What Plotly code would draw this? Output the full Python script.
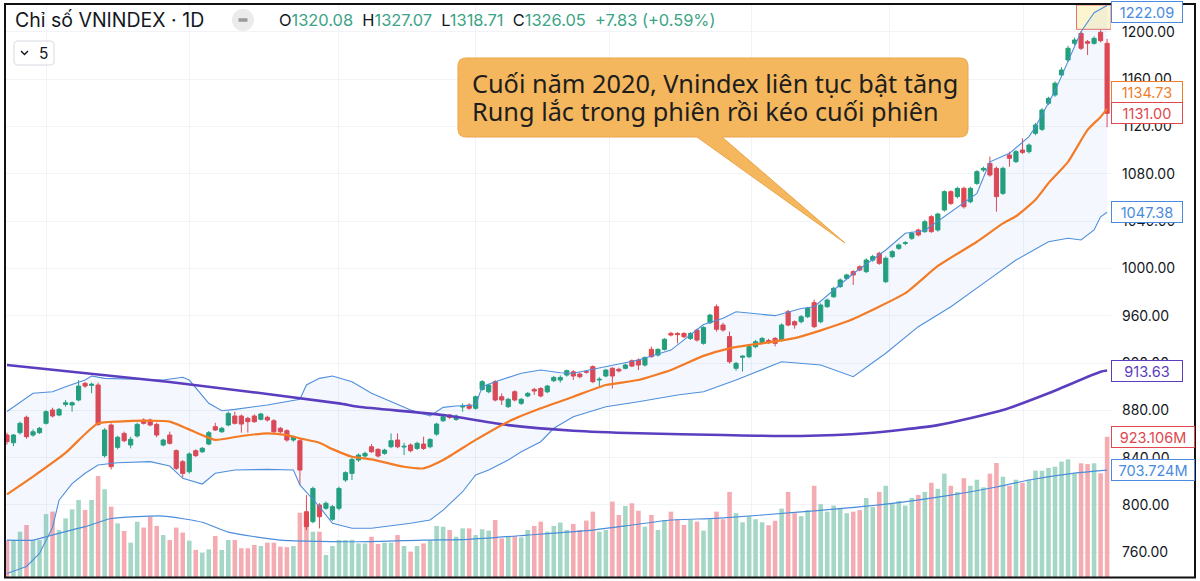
import plotly.graph_objects as go

# ---------------- data ----------------
opens = [859.1, 852.6, 861.1, 874.1, 859.1, 861.1, 869.0, 880.3, 876.0, 885.0,
         884.5, 888.7, 902.8, 901.1, 901.4, 841.7, 867.6, 848.7, 860.5, 850.7,
         858.3, 871.8, 871.8, 868.1, 850.7, 859.1, 845.9, 836.6, 828.1, 845.9,
         845.0, 851.5, 866.2, 861.9, 867.6, 875.2, 875.2, 873.2, 875.2, 872.4,
         874.1, 871.2, 864.8, 862.8, 854.9, 854.3, 794.3, 785.9, 800.0, 797.2,
         787.9, 797.2, 821.1, 826.7, 838.0, 841.4, 849.2, 847.0, 843.6, 849.2,
         854.9, 849.0, 850.7, 847.8, 851.5, 849.2, 859.9, 871.2, 876.0, 872.3,
         882.8, 884.5, 881.7, 897.7, 895.7, 904.2, 891.5, 883.1, 895.7, 885.9,
         892.1, 897.7, 898.5, 895.7, 905.0, 905.6, 909.8, 912.6, 910.7, 912.7,
         916.9, 905.6, 909.0, 915.5, 914.7, 915.5, 921.9, 922.5, 918.3, 931.5,
         926.7, 931.5, 945.0, 945.0, 945.0, 940.8, 947.8, 936.6, 954.0, 967.6,
         952.1, 942.3, 915.5, 924.8, 925.3, 933.8, 937.2, 939.0, 940.8, 939.4,
         963.4, 954.9, 954.9, 959.1, 971.0, 954.9, 967.6, 976.0, 984.5, 991.5,
         997.2, 1001.4, 997.2, 1007.0, 1012.7, 988.7, 1009.9, 1016.9, 1021.1, 1025.4,
         1032.4, 1031.0, 1043.7, 1032.4, 1049.3, 1064.8, 1060.6, 1067.6, 1056.3, 1071.8,
         1083.1, 1088.7, 1084.5, 1063.4, 1095.8, 1090.2, 1100.0, 1098.6, 1114.1, 1117.5,
         1139.5, 1146.5, 1163.4, 1176.1, 1190.2, 1198.6, 1191.6, 1190.2, 1199.5, 1190.2]

highs = [861.0, 860.0, 870.5, 875.5, 863.9, 866.0, 880.0, 882.2, 882.0, 888.7,
         887.5, 905.6, 904.0, 903.4, 903.4, 865.0, 869.0, 858.5, 862.0, 857.7,
         869.5, 873.2, 873.0, 869.5, 856.0, 862.0, 847.0, 838.0, 844.5, 847.0,
         849.0, 862.5, 869.5, 866.0, 879.0, 878.9, 876.5, 874.5, 876.5, 878.0,
         875.5, 872.5, 866.0, 864.0, 858.5, 855.5, 808.4, 815.5, 801.5, 803.0,
         800.0, 815.5, 828.5, 840.0, 843.5, 845.0, 851.5, 848.0, 847.5, 860.5,
         860.5, 852.6, 852.0, 853.5, 857.7, 856.5, 869.5, 876.0, 877.0, 876.5,
         885.9, 886.0, 892.5, 905.5, 902.5, 905.5, 894.3, 890.5, 897.0, 890.5,
         895.5, 899.0, 899.5, 901.5, 909.0, 909.5, 914.5, 914.0, 912.0, 914.0,
         918.0, 908.0, 915.0, 916.5, 916.0, 919.5, 923.0, 923.9, 925.5, 933.8,
         932.5, 941.0, 946.4, 946.0, 946.0, 946.0, 949.0, 951.0, 961.5, 969.5,
         954.0, 946.5, 921.0, 926.5, 935.0, 939.5, 942.0, 940.5, 942.0, 953.5,
         965.0, 956.0, 960.5, 967.5, 973.5, 970.5, 974.5, 984.5, 991.5, 995.5,
         998.5, 1002.5, 1008.5, 1011.5, 1014.0, 1010.0, 1015.5, 1021.0, 1023.0, 1031.0,
         1033.5, 1041.0, 1045.0, 1047.0, 1066.0, 1066.0, 1069.0, 1069.0, 1069.0, 1083.0,
         1086.0, 1094.4, 1086.0, 1086.0, 1098.6, 1100.0, 1109.9, 1105.5, 1123.0, 1135.5,
         1145.0, 1158.0, 1170.0, 1188.0, 1195.0, 1200.5, 1193.0, 1196.0, 1201.5, 1194.0]

lows = [851.0, 849.8, 859.5, 856.0, 857.7, 860.0, 868.0, 874.0, 875.0, 883.1,
        878.9, 887.5, 899.0, 894.4, 867.0, 840.0, 830.0, 847.0, 853.0, 847.9,
        857.0, 868.0, 866.5, 857.2, 849.5, 851.0, 829.5, 823.3, 826.5, 840.5,
        844.0, 850.5, 862.5, 861.0, 866.5, 868.0, 861.1, 861.1, 869.5, 871.5,
        870.5, 860.5, 860.5, 853.5, 853.5, 816.9, 778.8, 784.5, 780.2, 796.0,
        786.5, 795.5, 819.5, 821.1, 836.5, 840.0, 844.0, 840.0, 842.5, 848.0,
        848.0, 842.2, 844.5, 846.5, 846.5, 848.0, 858.5, 870.0, 872.5, 871.0,
        878.8, 880.5, 880.5, 896.5, 894.5, 887.5, 884.5, 882.0, 887.5, 884.5,
        891.0, 892.9, 891.0, 894.5, 904.0, 903.5, 908.5, 905.6, 907.0, 911.0,
        903.0, 900.5, 908.0, 898.5, 912.0, 914.5, 916.5, 914.0, 917.0, 924.5,
        925.5, 930.5, 942.5, 936.6, 941.0, 939.5, 938.0, 935.5, 953.0, 946.5,
        946.5, 919.5, 913.5, 912.7, 924.0, 932.5, 936.0, 936.0, 934.0, 938.0,
        951.0, 949.0, 953.5, 958.0, 949.5, 953.5, 966.5, 975.0, 983.5, 990.5,
        985.9, 997.5, 996.0, 1005.5, 1003.0, 987.5, 1008.5, 1015.5, 1019.5, 1024.0,
        1027.0, 1030.0, 1030.0, 1031.0, 1048.0, 1053.5, 1059.0, 1050.5, 1055.0, 1070.5,
        1081.5, 1077.5, 1047.9, 1062.0, 1085.9, 1089.0, 1096.5, 1097.0, 1112.5, 1116.0,
        1138.0, 1145.0, 1161.5, 1174.5, 1188.5, 1184.5, 1180.3, 1189.0, 1191.0, 1119.2]

closes = [853.5, 859.1, 869.0, 857.7, 861.9, 864.8, 878.9, 875.2, 880.8, 886.4,
          886.4, 900.5, 900.5, 902.0, 868.1, 863.4, 832.4, 857.2, 854.3, 855.5,
          868.1, 869.0, 867.6, 859.1, 854.9, 852.1, 831.0, 826.7, 843.1, 841.7,
          847.9, 861.1, 863.4, 864.8, 877.4, 869.0, 868.4, 870.4, 870.4, 876.9,
          871.8, 861.9, 861.9, 854.9, 857.7, 829.5, 781.7, 814.0, 790.1, 801.4,
          798.6, 814.0, 827.3, 838.5, 842.2, 843.6, 845.0, 841.4, 846.4, 854.3,
          849.2, 849.6, 845.9, 852.1, 847.8, 855.4, 868.4, 874.6, 874.0, 875.2,
          883.4, 881.7, 891.5, 904.2, 901.4, 888.7, 888.7, 889.3, 888.7, 889.3,
          894.3, 896.3, 892.1, 900.5, 907.8, 907.8, 913.5, 909.0, 908.4, 912.3,
          904.2, 906.2, 914.0, 909.0, 913.3, 918.3, 917.4, 918.3, 924.7, 925.3,
          931.5, 940.0, 943.6, 944.0, 942.2, 945.0, 939.4, 950.1, 960.5, 948.5,
          947.9, 921.1, 919.7, 925.8, 933.8, 938.0, 940.8, 937.2, 936.6, 952.1,
          952.1, 952.1, 959.1, 966.2, 950.7, 969.0, 973.2, 983.1, 990.2, 994.4,
          994.4, 998.6, 1007.0, 1009.9, 1004.2, 1008.5, 1014.1, 1019.7, 1021.6, 1029.6,
          1028.2, 1039.4, 1031.0, 1045.9, 1064.8, 1054.9, 1067.6, 1052.1, 1067.6, 1081.7,
          1084.5, 1078.9, 1060.6, 1084.5, 1093.0, 1098.6, 1098.0, 1104.2, 1121.2, 1133.8,
          1143.7, 1156.4, 1167.6, 1186.0, 1193.0, 1186.0, 1190.2, 1194.4, 1192.4, 1131.0]

volumes_m = [243, 243, 298, 342, 243, 243, 414, 430, 309, 386,
             445, 507, 441, 507, 664, 577, 463, 353, 303, 226,
             364, 325, 397, 336, 276, 243, 325, 292, 239, 178,
             160, 182, 270, 178, 243, 243, 189, 189, 211, 204,
             226, 226, 200, 196, 204, 423, 423, 298, 298, 145,
             204, 243, 243, 245, 221, 221, 265, 217, 226, 226,
             276, 204, 167, 204, 221, 243, 336, 331, 309, 265,
             320, 320, 276, 314, 305, 375, 254, 265, 270, 261,
             309, 336, 364, 298, 336, 358, 309, 349, 309, 371,
             430, 298, 309, 496, 408, 467, 485, 436, 331, 408,
             309, 375, 430, 380, 342, 375, 364, 305, 380, 430,
             380, 560, 420, 360, 400, 380, 360, 340, 370, 450,
             560, 420, 400, 440, 600, 480, 430, 470, 450, 420,
             430, 440, 520, 460, 560, 600, 480, 500, 470, 520,
             540, 560, 620, 580, 680, 600, 560, 650, 600, 640,
             590, 680, 750, 660, 600, 640, 620, 640, 700, 699,
             717, 726, 759, 774, 682, 748, 743, 748, 682, 923.106]

ma20_idx = [0, 4, 9, 12, 14, 17, 22, 25, 30, 32, 36, 40, 43, 45, 48, 50, 53, 56, 61, 64,
            67, 72, 77, 82, 87, 92, 97, 102, 107, 111, 121, 129, 138, 143, 149, 153, 155, 158, 160, 163,
            166, 168, 169]
ma20_val = [809, 824, 844, 860, 869, 870.5, 871.2, 870.4, 859, 855, 858.3, 860.6, 859.1, 856.3, 852.6, 847.2, 840.8, 838.6, 832.3, 831.0,
            838, 855, 870.4, 881.7, 891.5, 901.4, 905.6, 914.1, 926, 932.4, 941, 955, 979, 1002, 1022.5, 1038, 1044, 1058, 1072, 1090,
            1117, 1128, 1134.73]

bb_up_idx = [0, 4, 7, 9, 12, 13, 15, 19, 24, 27, 28, 31, 33, 35, 40, 45, 46, 48, 50, 53,
             56, 62, 65, 67, 69, 72, 73, 75, 79, 82, 85, 87, 92, 97, 102, 107, 110, 112, 118, 122,
             124, 130, 135, 138, 141, 146, 149, 151, 154, 157, 158, 161, 163, 165, 167, 169]
bb_up_val = [879, 894.4, 895.7, 900, 905.6, 909, 907, 906.2, 905.6, 907.9, 905.6, 885.9, 879.7, 880.8, 884.5, 889.3, 901.4, 907, 909, 904.2,
             894.4, 880.2, 875.2, 882.5, 883.6, 884.5, 900, 904.2, 911.3, 914.1, 911.8, 911.3, 916.9, 922.5, 930.9, 952.5, 957.8, 963.3, 960, 966,
             967.6, 995.6, 1015.5, 1029.6, 1032, 1052.1, 1063.4, 1090, 1097.2, 1111.3, 1119.7, 1150, 1175, 1200, 1216, 1222.09]

bb_lo_idx = [0, 3, 5, 7, 8, 10, 12, 14, 17, 22, 25, 27, 30, 32, 35, 40, 44, 45, 48, 50,
             53, 56, 62, 65, 67, 70, 72, 74, 77, 79, 82, 84, 87, 92, 97, 103, 107, 112, 119, 125,
             130, 135, 140, 145, 150, 155, 160, 163, 165, 167, 168, 169]
bb_lo_val = [742, 748, 759, 781, 804, 818, 826.8, 833.8, 835.7, 836.6, 832.9, 822.5, 817.7, 826.8, 829.6, 830.1, 829.6, 816.9, 798.5, 784.5,
             780.3, 780.3, 784.5, 787.3, 795.7, 811.2, 825.4, 829.6, 838.0, 845.0, 853.5, 864.8, 874.6, 883.0, 887.3, 892.9, 895.7, 905.6, 921.1, 918.3,
             908.4, 928.2, 950.7, 967.6, 987.3, 1007.0, 1022.5, 1025.4, 1024.0, 1032.4, 1043.6, 1047.38]

ma200_idx = [0, 25, 51, 54, 67, 77, 87, 97, 110, 122, 132, 143, 153, 160, 168, 169]
ma200_val = [918.3, 904.0, 885.9, 883.0, 876.0, 867.5, 862.8, 860.6, 859.1, 858.3, 860.6, 867.5, 880.2, 894.4, 912.6, 913.63]

volma_idx = [0, 4, 6, 9, 12, 16, 24, 30, 34, 42, 54, 64, 71, 80, 90, 95, 102, 109, 122, 134, 145, 152, 157, 164, 169]
volma_val = [243, 243, 265, 298, 331, 385, 401, 360, 295, 243, 232, 243, 248, 276, 309, 336, 375, 386, 428, 474, 539, 592, 638, 684, 703.724]

price_ticks = [760, 800, 840, 880, 920, 960, 1000, 1040, 1080, 1120, 1160, 1200]
price_tick_text = ["760.00", "800.00", "840.00", "880.00", "920.00", "960.00", "1000.00",
                   "1040.00", "1080.00", "1120.00", "1160.00", "1200.00"]

title_text = "Chỉ số VNINDEX · 1D"
ohlc_items = [("O", "1320.08"), ("H", "1327.07"), ("L", "1318.71"), ("C", "1326.05")]
change_text = "+7.83 (+0.59%)"
callout_lines = ["Cuối năm 2020, Vnindex liên tục bật tăng",
                 "Rung lắc trong phiên rồi kéo cuối phiên"]

# ---------------- styling ----------------
UP = "#22a07a"
DOWN = "#e3464f"
UP_V = "#a4d7c6"
DOWN_V = "#f4abb1"
BB_C = "#4f8fdc"
MA20_C = "#f47b25"
MA200_C = "#5b3dbf"
VOLMA_C = "#4a8ddb"
TXT = "#131722"
FONT = "Inter, Roboto, sans-serif"

W, H = 1200, 581
ML, MR, MT, MB = 6, 89, 5, 4
PW, PH = W - ML - MR, H - MT - MB


def PX(x):
    return (x - ML) / PW


def PY(y):
    return (H - MB - y) / PH


x = list(range(len(closes)))
vol_colors = [UP_V if c >= o else DOWN_V for o, c in zip(opens, closes)]

fig = go.Figure()

# volume (primary hidden axis)
fig.add_trace(go.Bar(x=x, y=volumes_m, marker=dict(color=vol_colors, line=dict(width=0)),
                     yaxis="y", hoverinfo="skip", showlegend=False))
fig.add_trace(go.Scatter(x=volma_idx, y=volma_val, mode="lines",
                         line=dict(color=VOLMA_C, width=1.2, shape="spline", smoothing=0.5), yaxis="y",
                         hoverinfo="skip", showlegend=False))

# Bollinger bands
fig.add_trace(go.Scatter(x=bb_up_idx, y=bb_up_val, mode="lines",
                         line=dict(color=BB_C, width=1.1), yaxis="y2",
                         hoverinfo="skip", showlegend=False))
fig.add_trace(go.Scatter(x=bb_lo_idx, y=bb_lo_val, mode="lines",
                         line=dict(color=BB_C, width=1.1), yaxis="y2",
                         fill="tonexty", fillcolor="rgba(66,133,244,0.06)",
                         hoverinfo="skip", showlegend=False))
# MA200
fig.add_trace(go.Scatter(x=ma200_idx, y=ma200_val, mode="lines",
                         line=dict(color=MA200_C, width=2.6, shape="spline", smoothing=0.6),
                         yaxis="y2", hoverinfo="skip", showlegend=False))
# MA20
fig.add_trace(go.Scatter(x=ma20_idx, y=ma20_val, mode="lines",
                         line=dict(color=MA20_C, width=2.2, shape="spline", smoothing=0.5), yaxis="y2",
                         hoverinfo="skip", showlegend=False))
# candles
fig.add_trace(go.Candlestick(x=x, open=opens, high=highs, low=lows, close=closes,
                             increasing=dict(line=dict(color=UP, width=1), fillcolor=UP),
                             decreasing=dict(line=dict(color=DOWN, width=1), fillcolor=DOWN),
                             whiskerwidth=0, yaxis="y2", hoverinfo="skip", showlegend=False))

shapes = []
# highlighted rectangle top-right
shapes.append(dict(type="rect", xref="x", yref="y2", x0=164.3, x1=169.6, y0=1202, y1=1222.6,
                   fillcolor="rgba(250,236,170,0.55)", line=dict(color="#e57373", width=1),
                   layer="below"))

# callout bubble (pixel coordinates converted to paper)
L_, R_, T_, B_, r = 458, 968, 58, 137, 8
bx0, bx1, tipx, tipy = 697, 722, 845, 243
pts = [
    ("M", L_ + r, T_), ("L", R_ - r, T_), ("Q", R_, T_, R_, T_ + r), ("L", R_, B_ - r),
    ("Q", R_, B_, R_ - r, B_), ("L", bx1, B_), ("L", tipx, tipy), ("L", bx0, B_),
    ("L", L_ + r, B_), ("Q", L_, B_, L_, B_ - r), ("L", L_, T_ + r), ("Q", L_, T_, L_ + r, T_),
]
path = ""
for p in pts:
    if p[0] == "Q":
        path += f"Q{PX(p[1]):.5f},{PY(p[2]):.5f} {PX(p[3]):.5f},{PY(p[4]):.5f} "
    else:
        path += f"{p[0]}{PX(p[1]):.5f},{PY(p[2]):.5f} "
path += "Z"
shapes.append(dict(type="path", xref="paper", yref="paper", path=path,
                   fillcolor="#f4b75e", line=dict(color="#eaa549", width=1), layer="above"))

# header: grey circle with dash
shapes.append(dict(type="circle", xref="paper", yref="paper",
                   x0=PX(232), x1=PX(254), y0=PY(31), y1=PY(9),
                   fillcolor="#ebebeb", line=dict(width=0), layer="above"))
shapes.append(dict(type="line", xref="paper", yref="paper",
                   x0=PX(238.5), x1=PX(247.5), y0=PY(20), y1=PY(20),
                   line=dict(color="#9a9a9a", width=3.5), layer="above"))
# "5" button
bl, bt, br_, bb, rr = 14, 41, 54, 65, 4
bpath = (f"M{PX(bl + rr):.5f},{PY(bt):.5f} L{PX(br_ - rr):.5f},{PY(bt):.5f} "
         f"Q{PX(br_):.5f},{PY(bt):.5f} {PX(br_):.5f},{PY(bt + rr):.5f} "
         f"L{PX(br_):.5f},{PY(bb - rr):.5f} Q{PX(br_):.5f},{PY(bb):.5f} {PX(br_ - rr):.5f},{PY(bb):.5f} "
         f"L{PX(bl + rr):.5f},{PY(bb):.5f} Q{PX(bl):.5f},{PY(bb):.5f} {PX(bl):.5f},{PY(bb - rr):.5f} "
         f"L{PX(bl):.5f},{PY(bt + rr):.5f} Q{PX(bl):.5f},{PY(bt):.5f} {PX(bl + rr):.5f},{PY(bt):.5f} Z")
shapes.append(dict(type="path", xref="paper", yref="paper", path=bpath,
                   fillcolor="white", line=dict(color="#d6d9e0", width=1), layer="above"))
shapes.append(dict(type="path", xref="paper", yref="paper",
                   path=f"M{PX(21):.5f},{PY(51):.5f} L{PX(24.5):.5f},{PY(54.5):.5f} L{PX(28):.5f},{PY(51):.5f}",
                   line=dict(color=TXT, width=1.4), layer="above"))
# outer black frame
shapes.append(dict(type="rect", xref="paper", yref="paper",
                   x0=PX(5), x1=PX(1195), y0=PY(577.5), y1=PY(4),
                   line=dict(color="#111111", width=2), layer="above"))

annotations = []
# header texts
annotations.append(dict(xref="paper", yref="paper", x=PX(13), y=PY(20), xanchor="left", yanchor="middle",
                        text=title_text, showarrow=False, font=dict(family=FONT, size=19.5, color=TXT)))
GREEN_T = "#3aa486"
parts = []
for k, v in ohlc_items:
    parts.append(f"<span style='color:{TXT}'>{k}</span><span style='color:{GREEN_T}'>{v}</span>")
ohlc_text = "  ".join(parts) + f"  <span style='color:{GREEN_T}'>{change_text}</span>"
annotations.append(dict(xref="paper", yref="paper", x=PX(277), y=PY(20), xanchor="left", yanchor="middle",
                        text=ohlc_text, showarrow=False, font=dict(family=FONT, size=16.4, color=TXT)))
annotations.append(dict(xref="paper", yref="paper", x=PX(37), y=PY(53), xanchor="left", yanchor="middle",
                        text="5", showarrow=False, font=dict(family=FONT, size=15.5, color=TXT)))
# callout text
for i, line in enumerate(callout_lines):
    annotations.append(dict(xref="paper", yref="paper", x=PX(470), y=PY(83 + 27.5 * i),
                            xanchor="left", yanchor="middle", text=line, showarrow=False,
                            font=dict(family="Noto Sans, Open Sans, sans-serif", size=25.3, color="#1d1d1d")))


def axis_label(val_text, yref, yval, color, width, yshift=0):
    return dict(xref="paper", yref=yref, x=1.0, y=yval, xanchor="left", yanchor="middle",
                text=val_text, showarrow=False, yshift=yshift,
                font=dict(family=FONT, size=14.5, color=color),
                bgcolor="white", bordercolor=color, borderwidth=1, borderpad=2,
                width=width, height=16, align="center")


annotations.append(axis_label("1222.09", "y2", bb_up_val[-1], "#4a8be0", 66, yshift=-6))
annotations.append(axis_label("1134.73", "y2", ma20_val[-1], "#ef7d2a", 66, yshift=17))
annotations.append(axis_label("1131.00", "y2", closes[-1], "#e0474f", 66))
annotations.append(axis_label("1047.38", "y2", bb_lo_val[-1], "#4a8be0", 66))
annotations.append(axis_label("913.63", "y2", ma200_val[-1], "#5b3dbf", 66))
annotations.append(axis_label("923.106M", "y", volumes_m[-1], "#e0474f", 78))
annotations.append(axis_label("703.724M", "y", volma_val[-1], "#4a8be0", 78))

fig.update_layout(
    width=W, height=H,
    margin=dict(l=ML, r=MR, t=MT, b=MB),
    paper_bgcolor="white", plot_bgcolor="white",
    showlegend=False,
    bargap=0.3,
    boxgap=0.2, boxgroupgap=0.2,
    xaxis=dict(range=[-0.15, 169.6], showticklabels=False, ticks="",
               tickvals=[6, 28, 51, 72, 92.6, 114.3, 135.5, 156.2],
               showgrid=True, gridcolor="#f1f3f7", gridwidth=1,
               zeroline=False, showline=False, rangeslider=dict(visible=False), fixedrange=True),
    yaxis=dict(range=[0, 3763], visible=False, showgrid=False, zeroline=False, fixedrange=True),
    yaxis2=dict(range=[739.13, 1222.57], overlaying="y", side="right", anchor="x",
                tickvals=price_ticks, ticktext=price_tick_text,
                tickfont=dict(family=FONT, size=14, color=TXT),
                showgrid=True, gridcolor="#f1f3f7", gridwidth=1, zeroline=False,
                showline=False, ticks="", ticklabelstandoff=10, fixedrange=True),
    shapes=shapes,
    annotations=annotations,
    font=dict(family=FONT),
)

fig.write_html("out.html")
